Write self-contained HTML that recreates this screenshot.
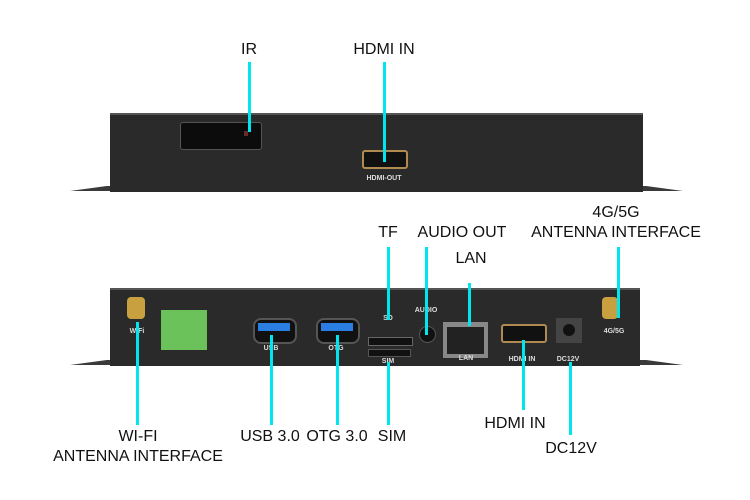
<!DOCTYPE html>
<html><head><meta charset="utf-8"><style>
body{margin:0;width:750px;height:500px;background:#fff;position:relative;overflow:hidden;font-family:"Liberation Sans",sans-serif}
div{position:absolute}
.l{font-size:16px;color:#111;text-align:center;white-space:nowrap;transform:translateX(-50%);line-height:20px}
.c{background:#00e5ee;width:3px}
.s{font-size:7px;color:#ddd;font-weight:bold;transform:translateX(-50%)}
.body{background:#2a2a2a;border-top:2px solid #555}
.fl{background:#3a3a3a;height:5px}
</style></head><body>
<!-- top device -->
<div class="fl" style="left:70px;top:186px;width:613px;clip-path:polygon(0 100%,6% 0,94% 0,100% 100%)"></div>
<div class="body" style="left:110px;top:113px;width:533px;height:77px"></div>
<div style="left:180px;top:122px;width:80px;height:26px;background:#0c0c0c;border:1px solid #555;border-radius:3px"></div>
<div style="left:244px;top:131px;width:4px;height:5px;background:#6a2a2a"></div>
<div style="left:362px;top:150px;width:42px;height:15px;background:#111;border:2px solid #b08a50;border-radius:3px"></div>
<div class="s" style="left:384px;top:175px">HDMI-OUT</div>
<!-- bottom device -->
<div class="fl" style="left:70px;top:360px;width:613px;clip-path:polygon(0 100%,6% 0,94% 0,100% 100%)"></div>
<div class="body" style="left:110px;top:288px;width:530px;height:76px"></div>
<div style="left:127px;top:297px;width:18px;height:22px;background:#c8a040;border-radius:4px"></div>
<div class="s" style="left:137px;top:328px">WiFi</div>
<div style="left:161px;top:310px;width:46px;height:40px;background:#6bc25a"></div>
<div style="left:253px;top:318px;width:40px;height:22px;background:#111;border:2px solid #555;border-radius:8px"></div>
<div style="left:258px;top:323px;width:32px;height:8px;background:#2a7de1"></div>
<div class="s" style="left:271px;top:345px">USB</div>
<div style="left:316px;top:318px;width:40px;height:22px;background:#111;border:2px solid #555;border-radius:8px"></div>
<div style="left:321px;top:323px;width:32px;height:8px;background:#2a7de1"></div>
<div class="s" style="left:336px;top:345px">OTG</div>
<div class="s" style="left:388px;top:315px">SD</div>
<div style="left:368px;top:337px;width:43px;height:7px;background:#111;border:1px solid #666"></div>
<div style="left:368px;top:349px;width:41px;height:6px;background:#111;border:1px solid #555"></div>
<div class="s" style="left:388px;top:358px">SIM</div>
<div class="s" style="left:426px;top:307px">AUDIO</div>
<div style="left:419px;top:326px;width:15px;height:15px;background:#111;border:1px solid #555;border-radius:50%"></div>
<div style="left:443px;top:322px;width:45px;height:36px;background:#888"></div>
<div style="left:447px;top:327px;width:37px;height:27px;background:#222"></div>
<div class="s" style="left:466px;top:355px">LAN</div>
<div style="left:501px;top:324px;width:42px;height:15px;background:#111;border:2px solid #b08a50;border-radius:3px"></div>
<div class="s" style="left:522px;top:356px">HDMI IN</div>
<div style="left:556px;top:318px;width:26px;height:25px;background:#444"></div>
<div style="left:563px;top:324px;width:12px;height:12px;background:#111;border-radius:50%"></div>
<div class="s" style="left:568px;top:356px">DC12V</div>
<div style="left:602px;top:297px;width:16px;height:22px;background:#c8a040;border-radius:4px"></div>
<div class="s" style="left:614px;top:328px">4G/5G</div>
<!-- lines -->
<div class="c" style="left:248px;top:62px;height:70px"></div>
<div class="c" style="left:383px;top:62px;height:100px"></div>
<div class="c" style="left:387px;top:247px;height:73px"></div>
<div class="c" style="left:425px;top:247px;height:88px"></div>
<div class="c" style="left:468px;top:283px;height:43px"></div>
<div class="c" style="left:617px;top:247px;height:71px"></div>
<div class="c" style="left:136px;top:322px;height:103px"></div>
<div class="c" style="left:270px;top:335px;height:90px"></div>
<div class="c" style="left:336px;top:335px;height:90px"></div>
<div class="c" style="left:387px;top:362px;height:63px"></div>
<div class="c" style="left:522px;top:340px;height:70px"></div>
<div class="c" style="left:569px;top:362px;height:73px"></div>
<!-- labels -->
<div class="l" style="left:249px;top:40px">IR</div>
<div class="l" style="left:384px;top:40px">HDMI IN</div>
<div class="l" style="left:388px;top:223px">TF</div>
<div class="l" style="left:462px;top:223px">AUDIO OUT</div>
<div class="l" style="left:471px;top:249px">LAN</div>
<div class="l" style="left:616px;top:203px">4G/5G<br>ANTENNA INTERFACE</div>
<div class="l" style="left:138px;top:427px">WI-FI<br>ANTENNA INTERFACE</div>
<div class="l" style="left:270px;top:427px">USB 3.0</div>
<div class="l" style="left:337px;top:427px">OTG 3.0</div>
<div class="l" style="left:392px;top:427px">SIM</div>
<div class="l" style="left:515px;top:414px">HDMI IN</div>
<div class="l" style="left:571px;top:439px">DC12V</div>
</body></html>
